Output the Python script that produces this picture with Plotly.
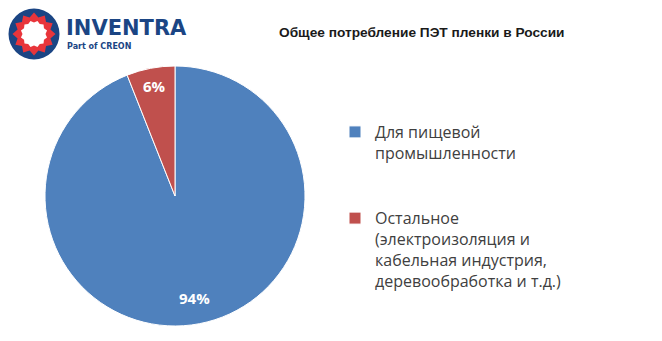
import numpy as np
import plotly.graph_objects as go

# Consumption shares of PET film in Russia
labels = [
    "Для пищевой<br>промышленности<br> <br> ",
    "Остальное<br>(электроизоляция и<br>кабельная индустрия,<br>деревообработка и т.д.)",
]
values = [94, 6]
colors = ["#4F81BD", "#C0504D"]
# radial position of each percentage label, as a fraction of the radius
label_radius = [0.80, 0.86]

W, H = 662, 341
PIE_CX, PIE_CY, PIE_R = 175, 196, 130


def px(x):
    return x / W


def py(y):
    return 1 - y / H


fig = go.Figure()
fig.add_trace(go.Pie(
    labels=labels,
    values=values,
    sort=False,
    direction="clockwise",
    rotation=0,
    marker=dict(colors=colors, line=dict(color="white", width=1)),
    textinfo="none",
    domain=dict(x=[px(PIE_CX - PIE_R), px(PIE_CX + PIE_R)],
                y=[py(PIE_CY + PIE_R), py(PIE_CY - PIE_R)]),
    hoverinfo="label+percent",
))

annotations = []

# Percentage labels placed at the middle angle of each slice
total = float(sum(values))
start = 0.0
for v, f in zip(values, label_radius):
    mid = (start + v / 2) / total * 2 * np.pi  # clockwise from 12 o'clock
    start += v
    lx = PIE_CX + f * PIE_R * np.sin(mid)
    ly = PIE_CY - f * PIE_R * np.cos(mid)
    annotations.append(dict(
        text=f"{round(v / total * 100)}%", x=px(lx), y=py(ly),
        xref="paper", yref="paper", xanchor="center", yanchor="middle",
        showarrow=False,
        font=dict(family="Open Sans", size=15, color="white", weight="bold"),
    ))


def star_paper(cx, cy, r_out, r_in, n, phase=0.0):
    pts = []
    for k in range(2 * n):
        a = phase + np.pi * k / n
        r = r_out if k % 2 == 0 else r_in
        pts.append((px(cx + r * np.cos(a)), py(cy + r * np.sin(a))))
    return "M " + " L ".join(f"{x:.5f},{y:.5f}" for x, y in pts) + " Z"


# Logo emblem: navy ring, red gear, white centre
cx, cy = 34, 34
shapes = [
    dict(type="circle", xref="paper", yref="paper",
         x0=px(cx - 25.5), x1=px(cx + 25.5), y0=py(cy + 25.5), y1=py(cy - 25.5),
         fillcolor="#1B4584", line=dict(width=0)),
    dict(type="path", xref="paper", yref="paper",
         path=star_paper(cx, cy, 21.5, 17, 12, -np.pi / 2),
         fillcolor="#E8353B", line=dict(width=0)),
    dict(type="path", xref="paper", yref="paper",
         path=star_paper(cx, cy, 13.5, 11.5, 12, -np.pi / 2 + np.pi / 12),
         fillcolor="white", line=dict(width=0)),
]

annotations += [
    dict(text="INVENTRA", x=px(64), y=py(28), xref="paper", yref="paper",
         xanchor="left", yanchor="middle", showarrow=False,
         font=dict(family="DejaVu Sans", size=21, color="#1B4584", weight="bold")),
    dict(text="Part of CREON", x=px(65), y=py(46), xref="paper", yref="paper",
         xanchor="left", yanchor="middle", showarrow=False,
         font=dict(family="DejaVu Sans", size=8, color="#1B4584", weight="bold")),
    dict(text="Общее потребление ПЭТ пленки в России", x=px(422), y=py(32),
         xref="paper", yref="paper", xanchor="center", yanchor="middle",
         showarrow=False,
         font=dict(family="Liberation Sans", size=13.7, color="#1a1a1a", weight="bold")),
]

fig.update_layout(
    width=W, height=H,
    margin=dict(l=0, r=0, t=0, b=0),
    paper_bgcolor="white",
    plot_bgcolor="white",
    showlegend=True,
    legend=dict(
        x=px(335), y=py(115), xanchor="left", yanchor="top",
        valign="top",
        font=dict(family="Open Sans", size=16, color="#404040"),
        itemwidth=30,
        bgcolor="rgba(0,0,0,0)",
    ),
    shapes=shapes,
    annotations=annotations,
)

fig.write_html("out.html")
